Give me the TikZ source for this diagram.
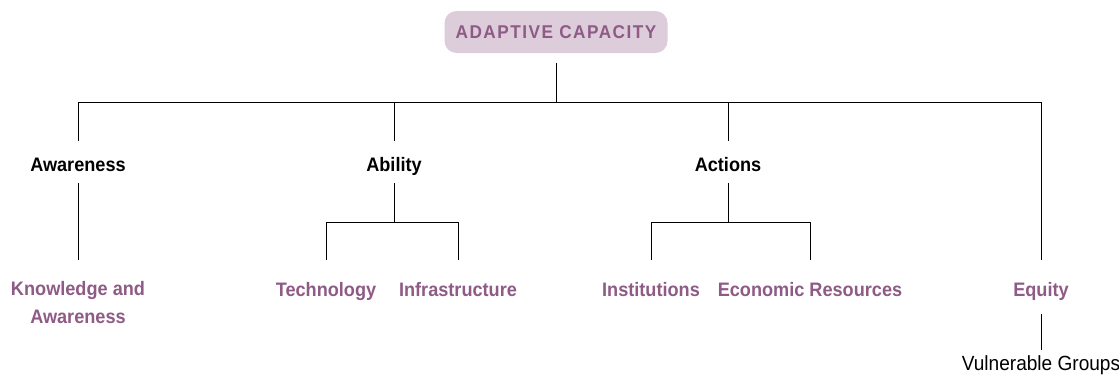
\documentclass[tikz,border=0pt]{standalone}
\usepackage{fontspec}
\setmainfont{Liberation Sans}[FakeStretch=0.93]
\newfontfamily\rootfont{Liberation Sans}[FakeStretch=0.93, LetterSpace=8]
\usetikzlibrary{positioning}

\definecolor{mauve}{RGB}{142,90,134}
\definecolor{mauvefill}{RGB}{221,204,218}

\begin{document}
\begin{tikzpicture}[
  x=1pt, y=-1pt,
  line width=1pt,
  rootbox/.style={fill=mauvefill, rounded corners=12pt, minimum width=223pt, minimum height=42pt, text=mauve, font=\rootfont\bfseries\fontsize{18.5}{20}\selectfont, outer ysep=10pt},
  cat/.style={font=\bfseries\fontsize{19.5}{28}\selectfont, text height=22pt, text depth=4pt, inner ysep=0pt, outer ysep=8pt, anchor=base},
  sub/.style={font=\bfseries\fontsize{19.5}{28}\selectfont, text=mauve, align=center, text height=22pt, text depth=4pt, inner ysep=0pt, outer ysep=14pt, anchor=north},
  leaf/.style={font=\fontsize{20.5}{28}\selectfont, text height=20pt, text depth=4pt, inner ysep=0pt, outer ysep=0pt}
]
\useasboundingbox (0,0) rectangle (1119,380);

% Root
\node[rootbox] (root) at (556,32) {ADAPTIVE CAPACITY};
\coordinate (hub) at (556,102);

% Level 1
\node[cat] (aware) at (78,171) {Awareness};
\node[cat] (ability) at (394,171) {Ability};
\node[cat] (actions) at (728,171) {Actions};

% Level 2
\node[sub, text height=49pt] (know) at (78,260) {Knowledge and\\Awareness};
\node[sub] (tech) at (326,260) {Technology};
\node[sub] (infra) at (458,260) {Infrastructure};
\node[sub] (inst) at (651,260) {Institutions};
\node[sub] (econ) at (810,260) {Economic Resources};
\node[sub] (equity) at (1041,260) {Equity};

% Leaf
\node[leaf, below=36pt of equity] (vuln) {Vulnerable Groups};

\coordinate (abhub) at (394,222);
\coordinate (achub) at (728,222);

% Connections
\draw (root) -- (hub);
\draw (hub) -| (aware);
\draw (hub) -| (ability);
\draw (hub) -| (actions);
\draw (hub) -| (equity);

\draw (aware) -- (know);

\draw (ability) -- (abhub);
\draw (abhub) -| (tech);
\draw (abhub) -| (infra);

\draw (actions) -- (achub);
\draw (achub) -| (inst);
\draw (achub) -| (econ);

\draw (equity) -- (vuln);

\end{tikzpicture}
\end{document}
